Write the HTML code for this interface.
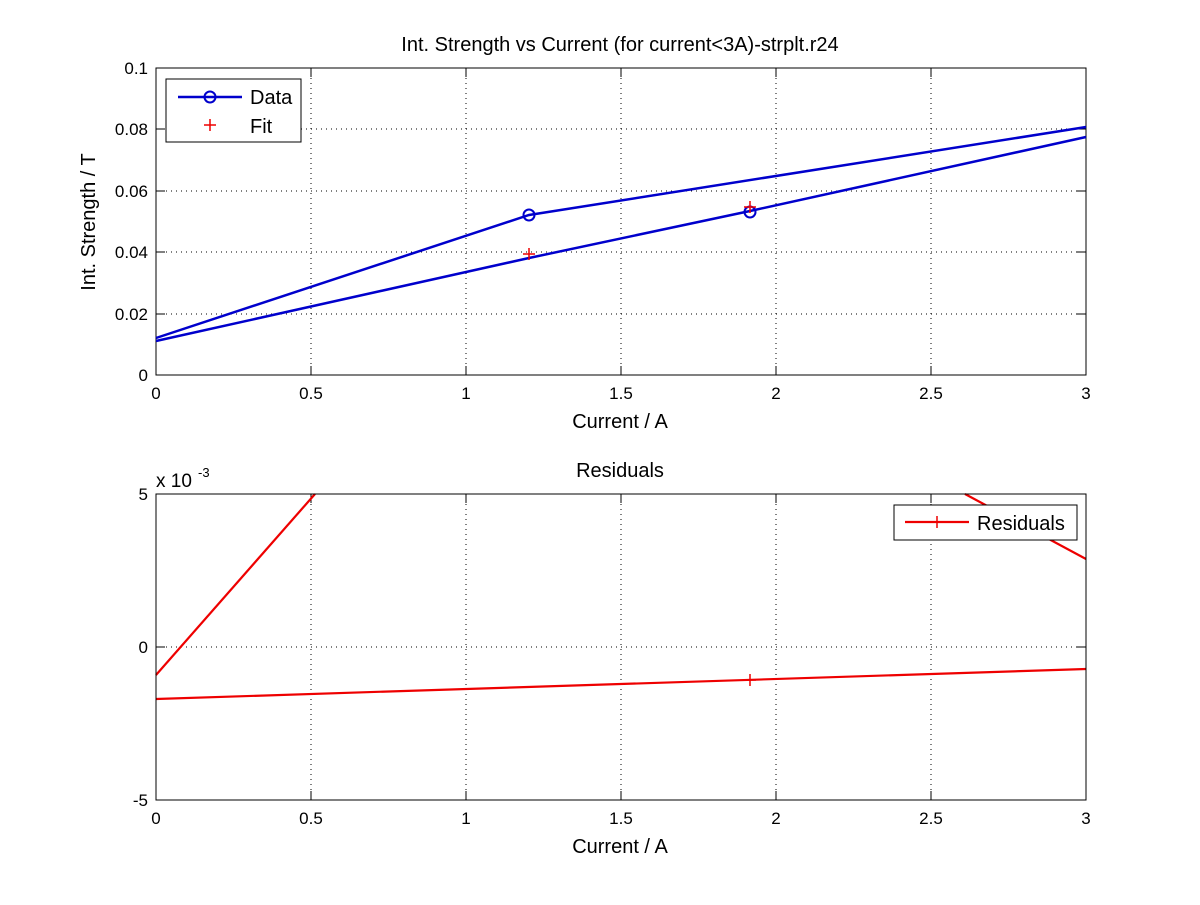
<!DOCTYPE html>
<html><head><style>
body{margin:0;background:#fff;}
svg text{font-family:"Liberation Sans",Arial,sans-serif;}
</style></head><body>
<svg width="1200" height="900" viewBox="0 0 1200 900" xmlns="http://www.w3.org/2000/svg">
<rect width="1200" height="900" fill="#fff"/>
<!-- TOP AXES -->
<g>
<rect x="156" y="68" width="930" height="307" fill="#fff"/>
<g stroke="#000" stroke-width="1" stroke-dasharray="1,4">
<line x1="311" y1="68" x2="311" y2="375"/><line x1="466" y1="68" x2="466" y2="375"/>
<line x1="621" y1="68" x2="621" y2="375"/><line x1="776" y1="68" x2="776" y2="375"/>
<line x1="931" y1="68" x2="931" y2="375"/>
<line x1="156" y1="129" x2="1086" y2="129"/><line x1="156" y1="191" x2="1086" y2="191"/>
<line x1="156" y1="252" x2="1086" y2="252"/><line x1="156" y1="314" x2="1086" y2="314"/>
</g>
<rect x="156" y="68" width="930" height="307" fill="none" stroke="#000"/>
<g stroke="#000"><line x1="311" y1="375" x2="311" y2="366"/><line x1="466" y1="375" x2="466" y2="366"/><line x1="621" y1="375" x2="621" y2="366"/><line x1="776" y1="375" x2="776" y2="366"/><line x1="931" y1="375" x2="931" y2="366"/>
<line x1="311" y1="68" x2="311" y2="77"/><line x1="466" y1="68" x2="466" y2="77"/><line x1="621" y1="68" x2="621" y2="77"/><line x1="776" y1="68" x2="776" y2="77"/><line x1="931" y1="68" x2="931" y2="77"/>
<line x1="156" y1="129" x2="165" y2="129"/><line x1="156" y1="191" x2="165" y2="191"/><line x1="156" y1="252" x2="165" y2="252"/><line x1="156" y1="314" x2="165" y2="314"/>
<line x1="1086" y1="129" x2="1077" y2="129"/><line x1="1086" y1="191" x2="1077" y2="191"/><line x1="1086" y1="252" x2="1077" y2="252"/><line x1="1086" y1="314" x2="1077" y2="314"/></g>
<g fill="none" stroke="#0000cc" stroke-width="2.5">
<polyline points="156,338 529,215 1086,127"/>
<polyline points="156,341 529,258 750,211 1086,137"/>
</g>
<g fill="none" stroke="#0000cc" stroke-width="2"><circle cx="529" cy="215" r="5.5"/><circle cx="750" cy="212" r="5.5"/></g>
<g stroke="#e00" stroke-width="1.5"><line x1="523" y1="254" x2="535" y2="254"/><line x1="529" y1="248" x2="529" y2="260"/>
<line x1="744" y1="207" x2="756" y2="207"/><line x1="750" y1="201" x2="750" y2="213"/></g>
<g font-size="17" text-anchor="middle"><text x="156" y="399">0</text><text x="311" y="399">0.5</text><text x="466" y="399">1</text><text x="621" y="399">1.5</text><text x="776" y="399">2</text><text x="931" y="399">2.5</text><text x="1086" y="399">3</text></g>
<g font-size="17" text-anchor="end"><text x="148" y="74">0.1</text><text x="148" y="135">0.08</text><text x="148" y="197">0.06</text><text x="148" y="258">0.04</text><text x="148" y="320">0.02</text><text x="148" y="381">0</text></g>
<text x="620" y="428" font-size="20" text-anchor="middle">Current / A</text>
<text x="620" y="51" font-size="20" text-anchor="middle">Int. Strength vs Current (for current&lt;3A)-strplt.r24</text>
<text transform="translate(95,222) rotate(-90)" font-size="20" text-anchor="middle">Int. Strength / T</text>
<rect x="166" y="79" width="135" height="63" fill="#fff" stroke="#000"/>
<line x1="178" y1="97" x2="242" y2="97" stroke="#0000cc" stroke-width="2.5"/><circle cx="210" cy="97" r="5.5" fill="none" stroke="#0000cc" stroke-width="2"/>
<g stroke="#e00" stroke-width="1.5"><line x1="204" y1="125" x2="216" y2="125"/><line x1="210" y1="119" x2="210" y2="131"/></g>
<text x="250" y="104" font-size="20">Data</text><text x="250" y="133" font-size="20">Fit</text>
</g>
<!-- BOTTOM AXES -->
<g>
<g stroke="#000" stroke-width="1" stroke-dasharray="1,4">
<line x1="311" y1="494" x2="311" y2="800"/><line x1="466" y1="494" x2="466" y2="800"/>
<line x1="621" y1="494" x2="621" y2="800"/><line x1="776" y1="494" x2="776" y2="800"/>
<line x1="931" y1="494" x2="931" y2="800"/>
<line x1="156" y1="647" x2="1086" y2="647"/>
</g>
<g stroke="#000"><line x1="311" y1="800" x2="311" y2="791"/><line x1="466" y1="800" x2="466" y2="791"/><line x1="621" y1="800" x2="621" y2="791"/><line x1="776" y1="800" x2="776" y2="791"/><line x1="931" y1="800" x2="931" y2="791"/>
<line x1="311" y1="494" x2="311" y2="503"/><line x1="466" y1="494" x2="466" y2="503"/><line x1="621" y1="494" x2="621" y2="503"/><line x1="776" y1="494" x2="776" y2="503"/><line x1="931" y1="494" x2="931" y2="503"/>
<line x1="156" y1="647" x2="165" y2="647"/><line x1="1086" y1="647" x2="1077" y2="647"/></g>
<g fill="none" stroke="#e00" stroke-width="2.2">
<polyline points="156,675 315,494"/>
<polyline points="965,494 1086,559"/>
<polyline points="156,699 1086,669"/>
</g>
<g stroke="#e00" stroke-width="1.5"><line x1="744" y1="680" x2="756" y2="680"/><line x1="750" y1="674" x2="750" y2="686"/></g>
<rect x="156" y="494" width="930" height="306" fill="none" stroke="#000"/>
<g font-size="17" text-anchor="middle"><text x="156" y="824">0</text><text x="311" y="824">0.5</text><text x="466" y="824">1</text><text x="621" y="824">1.5</text><text x="776" y="824">2</text><text x="931" y="824">2.5</text><text x="1086" y="824">3</text></g>
<g font-size="17" text-anchor="end"><text x="148" y="500">5</text><text x="148" y="653">0</text><text x="148" y="806">-5</text></g>
<text x="156" y="487" font-size="19">x 10</text><text x="198" y="477" font-size="13">-3</text>
<text x="620" y="853" font-size="20" text-anchor="middle">Current / A</text>
<text x="620" y="477" font-size="20" text-anchor="middle">Residuals</text>
<rect x="894" y="505" width="183" height="35" fill="#fff" stroke="#000"/>
<line x1="905" y1="522" x2="969" y2="522" stroke="#e00" stroke-width="2.2"/>
<line x1="937" y1="516" x2="937" y2="528" stroke="#e00" stroke-width="1.5"/>
<text x="977" y="530" font-size="20">Residuals</text>
</g>
</svg>
</body></html>
